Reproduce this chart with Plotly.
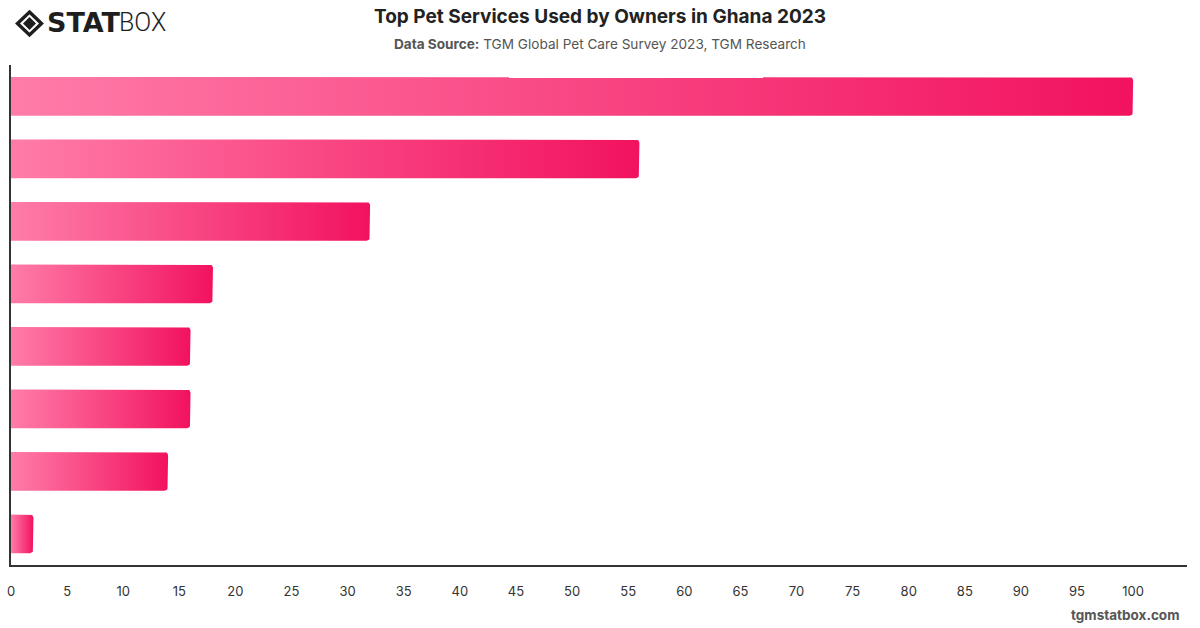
import plotly.graph_objects as go

# ---- data ----
categories = [
    "Veterinary care",
    "Pet food delivery",
    "Grooming",
    "Pet training",
    "Pet boarding",
    "Pet walking",
    "Pet insurance",
    "Pet daycare",
]
values = [100, 56, 32, 18, 16, 16, 14, 2]
x_ticks = list(range(0, 101, 5))

title_text = "Top Pet Services Used by Owners in Ghana 2023"
source_label = "Data Source:"
source_text = "TGM Global Pet Care Survey 2023, TGM Research"
footer_text = "tgmstatbox.com"

# ---- layout geometry (pixels) ----
W, H = 1200, 628
ML, MR, MT, MB = 11, 13, 65, 63
PW, PH = W - ML - MR, H - MT - MB
X_RANGE = [0, 104.8]
N = len(categories)
Y_RANGE = [N - 0.5, -0.5]
BAR_W = 0.62
RADIUS_PX = 3.5

px_per_x = PW / (X_RANGE[1] - X_RANGE[0])
px_per_y = PH / N


def px_to_paper(px, py):
    return (px - ML) / PW, (H - MB - py) / PH


def rounded_bar(idx, val):
    import math
    rx = RADIUS_PX / px_per_x
    ry = RADIUS_PX / px_per_y
    y0, y1 = idx - BAR_W / 2, idx + BAR_W / 2
    rx = min(rx, val / 2)
    xs, ys = [0, val - rx], [y0, y0]
    for k in range(1, 9):
        a = -math.pi / 2 + k * (math.pi / 2) / 8
        xs.append(val - rx + rx * math.cos(a))
        ys.append(y0 + ry + ry * math.sin(a))
    xs.append(val)
    ys.append(y1 - ry)
    for k in range(1, 9):
        a = k * (math.pi / 2) / 8
        xs.append(val - rx + rx * math.cos(a))
        ys.append(y1 - ry + ry * math.sin(a))
    xs += [0, 0]
    ys += [y1, y0]
    return xs, ys


fig = go.Figure()
for i, (c, v) in enumerate(zip(categories, values)):
    xs, ys = rounded_bar(i, v)
    fig.add_trace(go.Scatter(
        x=xs, y=ys, mode="lines", fill="toself",
        line=dict(width=0, color="rgba(0,0,0,0)"),
        fillgradient=dict(
            type="horizontal",
            colorscale=[[0, "#ff7ca9"], [1, "#f2125f"]],
        ),
        name=c, hoverinfo="text", text=f"{c}: {v}",
        showlegend=False,
    ))

fig.update_layout(
    width=W, height=H,
    margin=dict(l=ML, r=MR, t=MT, b=MB, pad=0, autoexpand=False),
    paper_bgcolor="white", plot_bgcolor="white",
    showlegend=False,
    xaxis=dict(
        range=X_RANGE, tickmode="array", tickvals=x_ticks,
        ticktext=[str(t) for t in x_ticks],
        showgrid=False, zeroline=False, automargin=False,
        showline=True, linecolor="#333333", linewidth=1.5,
        ticks="", ticklabelstandoff=14,
        tickfont=dict(family="Inter, Roboto, sans-serif", size=13, color="#333333"),
        fixedrange=True,
    ),
    yaxis=dict(
        range=Y_RANGE, tickmode="array", tickvals=list(range(N)),
        ticktext=categories, showticklabels=False, automargin=False,
        showgrid=False, zeroline=False,
        showline=True, linecolor="#333333", linewidth=1.5,
        ticks="", fixedrange=True,
    ),
)

annotations = []
tx, ty = px_to_paper(600, 17)
annotations.append(dict(
    text=f"<b>{title_text}</b>", x=tx, y=ty, xref="paper", yref="paper",
    xanchor="center", yanchor="middle", showarrow=False,
    font=dict(family="Inter, Roboto, sans-serif", size=19, color="#222222"),
))
sx, sy = px_to_paper(600, 44)
annotations.append(dict(
    text=f"<b>{source_label}</b> {source_text}", x=sx, y=sy,
    xref="paper", yref="paper", xanchor="center", yanchor="middle",
    showarrow=False,
    font=dict(family="Inter, Roboto, sans-serif", size=13.6, color="#555555"),
))
fx, fy = px_to_paper(1181, 615)
annotations.append(dict(
    text=f"<b>{footer_text}</b>", x=fx, y=fy, xref="paper", yref="paper",
    xanchor="right", yanchor="middle", showarrow=False,
    font=dict(family="Inter, Roboto, sans-serif", size=13.5, color="#555555"),
))
# logo text
lx, ly = px_to_paper(45, 23)
annotations.append(dict(
    text="<b>STAT</b>", x=lx, y=ly, xref="paper", yref="paper",
    xanchor="left", yanchor="middle", showarrow=False,
    font=dict(family="DejaVu Sans, sans-serif", size=27, color="#1e1e1e"),
))
bx, by = px_to_paper(117, 23)
annotations.append(dict(
    text="BOX", x=bx, y=by, xref="paper", yref="paper",
    xanchor="left", yanchor="middle", showarrow=False,
    font=dict(family="Roboto, sans-serif", size=25, color="#1e1e1e", weight=300),
))
fig.update_layout(annotations=annotations)


def diamond_path(cx, cy, hw, hh):
    pts = [(cx, cy - hh), (cx + hw, cy), (cx, cy + hh), (cx - hw, cy)]
    pp = [px_to_paper(x, y) for x, y in pts]
    return "M " + " L ".join(f"{a},{b}" for a, b in pp) + " Z"


fig.add_shape(type="path", xref="paper", yref="paper",
              path=diamond_path(29.5, 23.5, 12, 11.5), line=dict(color="#1e1e1e", width=3.4),
              fillcolor="rgba(0,0,0,0)")
fig.add_shape(type="path", xref="paper", yref="paper",
              path=diamond_path(29.5, 23.5, 6.5, 6.5), line=dict(color="#1e1e1e", width=0),
              fillcolor="#1e1e1e")

fig.write_html("out.html")
